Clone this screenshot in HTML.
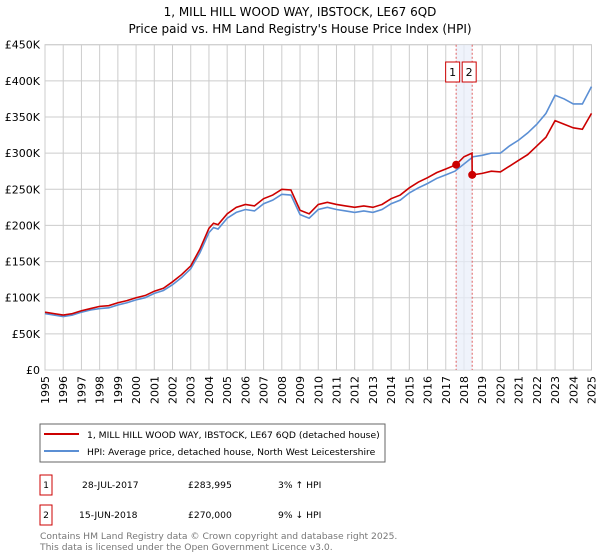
<!DOCTYPE html>
<html><head><meta charset="utf-8"><style>
body{margin:0;background:#fff;font-family:"Liberation Sans","DejaVu Sans",sans-serif;}
#wrap{position:relative;width:600px;height:560px;overflow:hidden;}
svg text{font-family:"DejaVu Sans","Liberation Sans",sans-serif;}
</style></head><body>
<div id="wrap">
<svg id="chart" width="600" height="560">
<text x="300" y="16" text-anchor="middle" font-size="12" fill="#000">1, MILL HILL WOOD WAY, IBSTOCK, LE67 6QD</text>
<text x="300" y="33" text-anchor="middle" font-size="12" fill="#000">Price paid vs. HM Land Registry's House Price Index (HPI)</text>
<g id="grid"></g><g id="band"></g><g id="series"></g><g id="axes"></g>
<rect x="40" y="424" width="345" height="38" fill="#fff" stroke="#666"/>
<line x1="44" y1="434" x2="79" y2="434" stroke="#cc0000" stroke-width="2"/>
<text x="87" y="438" font-size="9.2">1, MILL HILL WOOD WAY, IBSTOCK, LE67 6QD (detached house)</text>
<line x1="44" y1="451" x2="79" y2="451" stroke="#5b8fd4" stroke-width="2"/>
<text x="87" y="455" font-size="9.2">HPI: Average price, detached house, North West Leicestershire</text>
<rect x="40" y="475" width="12" height="20" fill="#fff" stroke="#cc0000"/>
<text x="46" y="488" font-size="9.2" text-anchor="middle">1</text>
<text x="82" y="488" font-size="9.2">28-JUL-2017</text>
<text x="188" y="488" font-size="9.2">£283,995</text>
<text x="278" y="488" font-size="9.2">3% ↑ HPI</text>
<rect x="40" y="505" width="12" height="20" fill="#fff" stroke="#cc0000"/>
<text x="46" y="518" font-size="9.2" text-anchor="middle">2</text>
<text x="79" y="518" font-size="9.2">15-JUN-2018</text>
<text x="188" y="518" font-size="9.2">£270,000</text>
<text x="278" y="518" font-size="9.2">9% ↓ HPI</text>
<text x="40" y="539" font-size="9.2" fill="#777">Contains HM Land Registry data © Crown copyright and database right 2025.</text>
<text x="40" y="550" font-size="9.2" fill="#777">This data is licensed under the Open Government Licence v3.0.</text>
</svg>
</div>
<script>
const yTicks=[0,50,100,150,200,250,300,350,400,450];
const yTickLabels=["£0","£50K","£100K","£150K","£200K","£250K","£300K","£350K","£400K","£450K"];
const xYears=[1995,1996,1997,1998,1999,2000,2001,2002,2003,2004,2005,2006,2007,2008,2009,2010,2011,2012,2013,2014,2015,2016,2017,2018,2019,2020,2021,2022,2023,2024,2025];
const hpiT=[1995,1995.5,1996,1996.5,1997,1997.5,1998,1998.5,1999,1999.5,2000,2000.5,2001,2001.5,2002,2002.5,2003,2003.5,2004,2004.25,2004.5,2005,2005.5,2006,2006.5,2007,2007.5,2008,2008.5,2009,2009.5,2010,2010.5,2011,2011.5,2012,2012.5,2013,2013.5,2014,2014.5,2015,2015.5,2016,2016.5,2017,2017.5,2018,2018.5,2019,2019.5,2020,2020.5,2021,2021.5,2022,2022.5,2023,2023.5,2024,2024.5,2025];
const hpiV=[78,76,74,76,80,83,85,86,90,93,97,100,106,110,118,128,140,162,190,197,195,210,218,222,220,230,235,243,242,215,210,222,225,222,220,218,220,218,222,230,235,245,252,258,265,270,275,285,295,297,300,300,310,318,328,340,355,380,375,368,368,392];
const redT=[1995,1995.5,1996,1996.5,1997,1997.5,1998,1998.5,1999,1999.5,2000,2000.5,2001,2001.5,2002,2002.5,2003,2003.5,2004,2004.25,2004.5,2005,2005.5,2006,2006.5,2007,2007.5,2008,2008.5,2009,2009.5,2010,2010.5,2011,2011.5,2012,2012.5,2013,2013.5,2014,2014.5,2015,2015.5,2016,2016.5,2017,2017.57,2018,2018.44,2018.45,2018.5,2019,2019.5,2020,2020.5,2021,2021.5,2022,2022.5,2023,2023.5,2024,2024.5,2025];
const redV=[80,78,76,78,82,85,88,89,93,96,100,103,109,113,122,132,144,167,196,203,201,216,225,229,227,237,242,250,249,221,216,229,232,229,227,225,227,225,229,237,242,252,260,266,273,278,283.995,295,300,270,270,272,275,274,282,290,298,310,322,345,340,335,333,355];
const saleT=[2017.57,2018.45];
const saleV=[283.995,270];
const saleLabels=["1","2"];
const NS="http://www.w3.org/2000/svg";
const X0=45,X1=591.5,Y0=370,Y1=44.7;
const xs=t=>X0+(t-1995)/30*(X1-X0);
const ys=v=>Y0-v/450*(Y0-Y1);
function mk(tag,attrs,parent){const e=document.createElementNS(NS,tag);for(const k in attrs)e.setAttribute(k,attrs[k]);parent.appendChild(e);return e;}
const grid=document.getElementById('grid'),axes=document.getElementById('axes'),band=document.getElementById('band'),ser=document.getElementById('series');
yTicks.forEach((v,i)=>{
 const l=mk('line',{x1:X0,x2:X1,y1:ys(v),y2:ys(v),stroke:'#ccc','stroke-width':1},grid);
 
 
 const t=mk('text',{x:X0-5,y:ys(v)+4,'text-anchor':'end','font-size':11},axes);
 t.textContent=yTickLabels[i];
 
 
});
xYears.forEach(yr=>{
 const l=mk('line',{x1:xs(yr),x2:xs(yr),y1:Y1,y2:Y0,stroke:'#ccc','stroke-width':1},grid);
 
 
 const t=mk('text',{x:0,y:0,'text-anchor':'end','font-size':11,transform:`translate(${xs(yr)+4},${Y0+6}) rotate(-90)`},axes);
 t.textContent=yr;
 
 
});
const fr=mk('rect',{x:X0,y:Y1,width:X1-X0,height:Y0-Y1,fill:'none',stroke:'#ccc'},grid);


const b=mk('rect',{x:xs(saleT[0]),y:Y1,width:xs(saleT[1])-xs(saleT[0]),height:Y0-Y1,fill:'#e8eefa',opacity:0.7},band);


saleT.forEach((t,i)=>{
 const l=mk('line',{x1:xs(t),x2:xs(t),y1:Y1,y2:Y0,stroke:'#e06060','stroke-dasharray':'2,2','stroke-width':1},band);
 
 
 const r=mk('rect',{x:i==0?xs(t)-10.5:xs(t)-10,y:62,width:14,height:20,fill:'#fff',stroke:'#cc0000'},axes);
 
 
 const tx=mk('text',{x:+r.getAttribute('x')+7,y:76,'text-anchor':'middle','font-size':11},axes);
 tx.textContent=saleLabels[i];
 
 
});
const hp=mk('polyline',{points:hpiT.map((t,i)=>xs(t)+','+ys(hpiV[i])).join(' '),fill:'none',stroke:'#5b8fd4','stroke-width':1.6},ser);


const rp=mk('polyline',{points:redT.map((t,i)=>xs(t)+','+ys(redV[i])).join(' '),fill:'none',stroke:'#cc0000','stroke-width':1.6},ser);


saleT.forEach((t,i)=>{
 const c=mk('circle',{cx:xs(t),cy:ys(saleV[i]),r:4,fill:'#cc0000'},ser);
 
 
});
</script>
</body></html>
